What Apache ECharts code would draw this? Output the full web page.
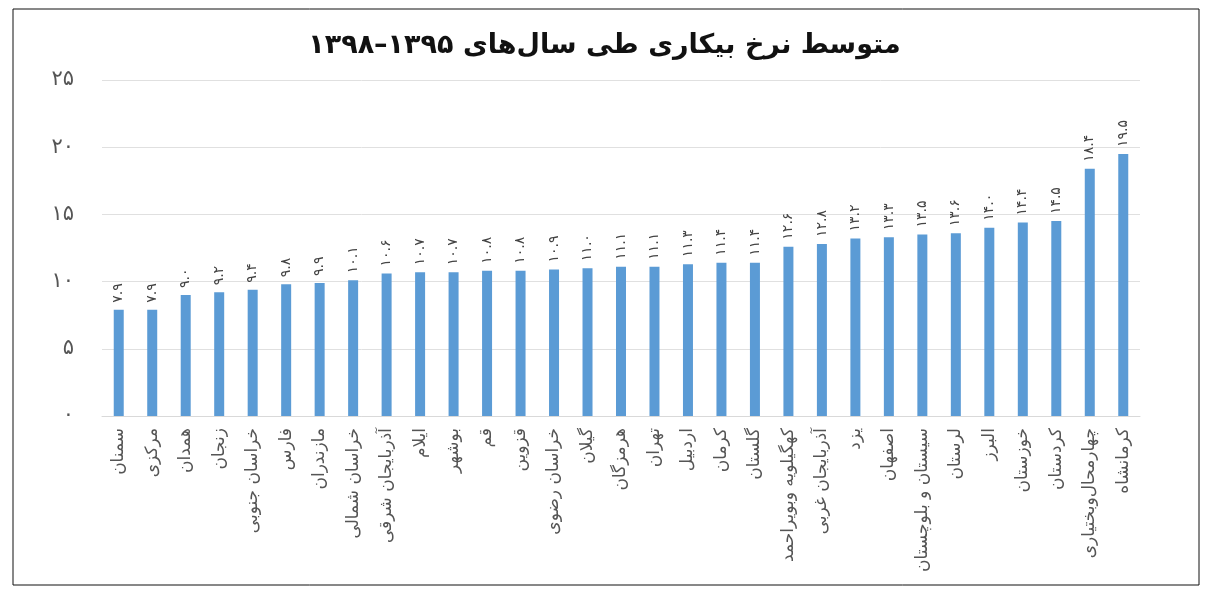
<!DOCTYPE html>
<html>
<head>
<meta charset="utf-8">
<script src="https://cdn.jsdelivr.net/npm/echarts@6/dist/echarts.min.js"></script>
<style>
  html, body { margin: 0; padding: 0; background: #fff; }
  #chart { width: 1209px; height: 598px; }
</style>
</head>
<body>
<div id="chart"></div>
<script>
// استان‌ها
const provinces = [
  "سمنان", "مرکزی", "همدان", "زنجان", "خراسان جنوبی", "فارس", "مازندران",
  "خراسان شمالی", "آذربایجان شرقی", "ایلام", "بوشهر", "قم", "قزوین",
  "خراسان رضوی", "گیلان", "هرمزگان", "تهران", "اردبیل", "کرمان", "گلستان",
  "کهگیلویه وبویراحمد", "آذربایجان غربی", "یزد", "اصفهان", "سیستان و بلوچستان",
  "لرستان", "البرز", "خوزستان", "کردستان", "چهارمحال‌وبختیاری", "کرمانشاه"
];
// نرخ بیکاری
const rates = [
  7.9, 7.9, 9.0, 9.2, 9.4, 9.8, 9.9, 10.1, 10.6, 10.7, 10.7, 10.8, 10.8,
  10.9, 11.0, 11.1, 11.1, 11.3, 11.4, 11.4, 12.6, 12.8, 13.2, 13.3, 13.5,
  13.6, 14.0, 14.4, 14.5, 18.4, 19.5
];
const yTicks = [0, 5, 10, 15, 20, 25];

const faDigits = "۰۱۲۳۴۵۶۷۸۹";
const toFa = (s) => String(s).replace(/\d/g, (d) => faDigits[d]);
const font = "DejaVu Sans";

var myChart = echarts.init(document.getElementById("chart"));
var option = {
  backgroundColor: "#fff",
  animation: false,
  title: {
    text: "متوسط نرخ بیکاری طی سال‌های " + toFa("1395") + "–" + toFa("1398"),
    left: "center",
    top: 27,
    textStyle: { fontFamily: font, fontSize: 27, fontWeight: "bold", color: "#111" },
  },
  graphic: [
    {
      type: "rect",
      shape: { x: 13, y: 9, width: 1186, height: 576 },
      style: { fill: "none", stroke: "#111", lineWidth: 1 },
      silent: true,
    },
  ],
  grid: { left: 102, right: 69, top: 80, bottom: 182 },
  xAxis: {
    type: "category",
    data: provinces,
    axisTick: { show: false },
    axisLine: { lineStyle: { color: "#d9d9d9" } },
    axisLabel: {
      interval: 0,
      rotate: 90,
      margin: 12,
      fontFamily: font,
      fontSize: 17,
      color: "#555",
    },
  },
  yAxis: {
    type: "value",
    min: yTicks[0],
    max: yTicks[yTicks.length - 1],
    interval: 5,
    axisLine: { show: false },
    axisTick: { show: false },
    splitLine: { lineStyle: { color: "#e0e0e0" } },
    axisLabel: {
      margin: 28,
      fontFamily: font,
      fontSize: 21,
      color: "#555",
      formatter: (v) => toFa(v),
    },
  },
  series: [
    {
      type: "bar",
      data: rates,
      barWidth: 10,
      itemStyle: { color: "#5b9bd5" },
      label: {
        show: true,
        position: "top",
        rotate: 90,
        align: "left",
        verticalAlign: "middle",
        distance: 7,
        fontFamily: font,
        fontSize: 14,
        color: "#444",
        formatter: (p) => toFa(p.value.toFixed(1)),
      },
    },
  ],
};
myChart.setOption(option);
</script>
</body>
</html>
